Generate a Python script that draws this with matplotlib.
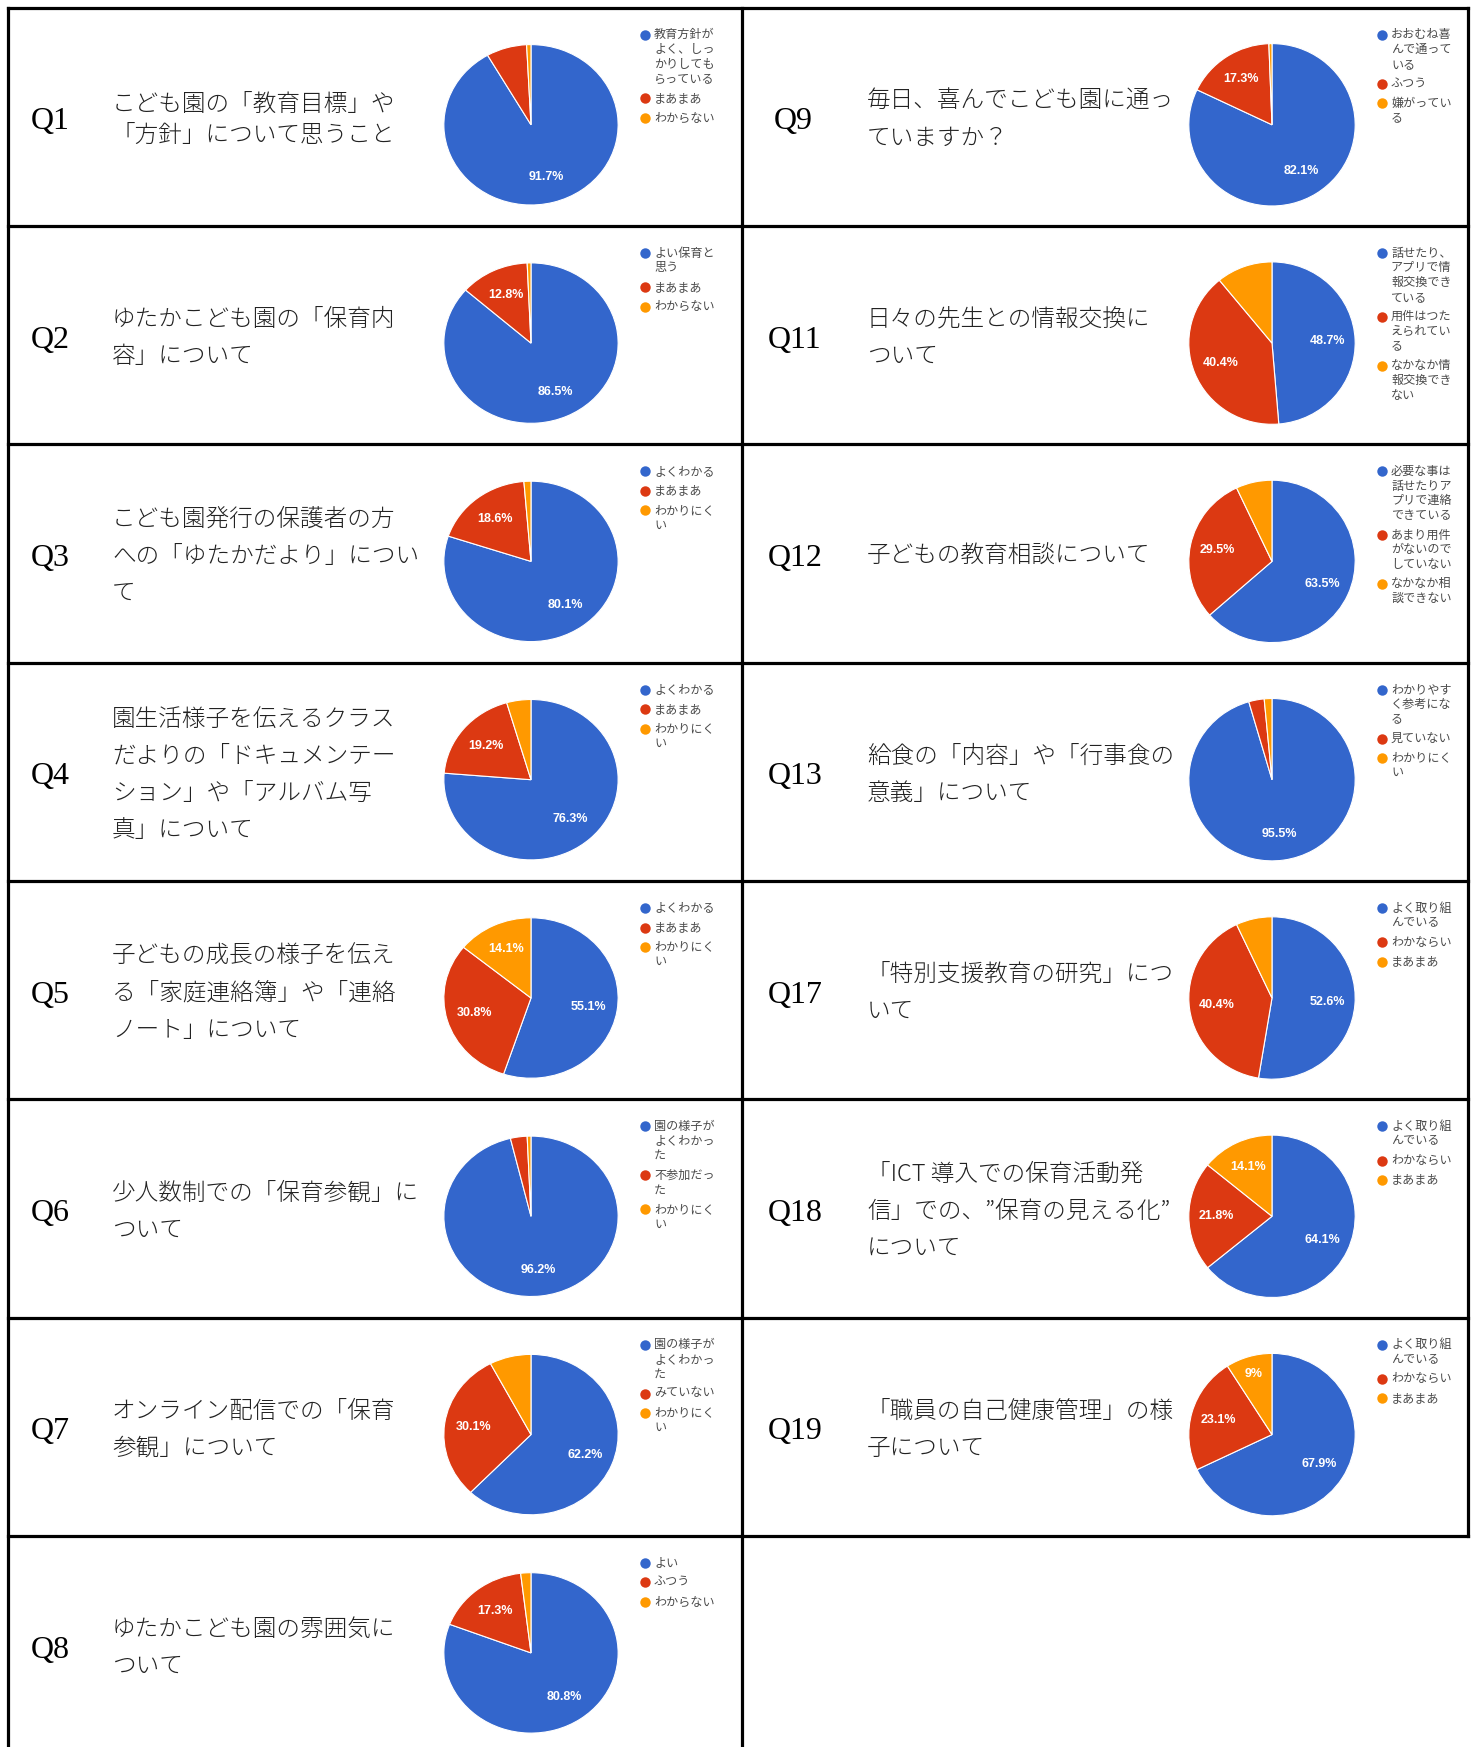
import matplotlib
matplotlib.use("Agg")
import matplotlib.pyplot as plt
import numpy as np

# --- data -------------------------------------------------------------
q_ids = ["Q1", "Q2", "Q3", "Q4", "Q5", "Q6", "Q7", "Q8",
         "Q9", "Q11", "Q12", "Q13", "Q17", "Q18", "Q19"]

q_text = [
    "こども園の「教育目標」や\n「方針」について思うこと",
    "ゆたかこども園の「保育内\n容」について",
    "こども園発行の保護者の方\nへの「ゆたかだより」につい\nて",
    "園生活様子を伝えるクラス\nだよりの「ドキュメンテー\nション」や「アルバム写\n真」について",
    "子どもの成長の様子を伝え\nる「家庭連絡簿」や「連絡\nノート」について",
    "少人数制での「保育参観」に\nついて",
    "オンライン配信での「保育\n参観」について",
    "ゆたかこども園の雰囲気に\nついて",
    "毎日、喜んでこども園に通っ\nていますか？",
    "日々の先生との情報交換に\nついて",
    "子どもの教育相談について",
    "給食の「内容」や「行事食の\n意義」について",
    "「特別支援教育の研究」につ\nいて",
    "「ICT 導入での保育活動発\n信」での、”保育の見える化”\nについて",
    "「職員の自己健康管理」の様\n子について",
]

blue_pct = [91.7, 86.5, 80.1, 76.3, 55.1, 96.2, 62.2, 80.8,
            82.1, 48.7, 63.5, 95.5, 52.6, 64.1, 67.9]
red_pct = [7.5, 12.8, 18.6, 19.2, 30.8, 3.1, 30.1, 17.3,
           17.3, 40.4, 29.5, 3.0, 40.4, 21.8, 23.1]
orange_pct = [0.8, 0.7, 1.3, 4.5, 14.1, 0.7, 7.7, 1.9,
              0.6, 10.9, 7.0, 1.5, 7.0, 14.1, 9.0]

legend_blue = [
    "教育方針が\nよく、しっ\nかりしても\nらっている",
    "よい保育と\n思う",
    "よくわかる",
    "よくわかる",
    "よくわかる",
    "園の様子が\nよくわかっ\nた",
    "園の様子が\nよくわかっ\nた",
    "よい",
    "おおむね喜\nんで通って\nいる",
    "話せたり、\nアプリで情\n報交換でき\nている",
    "必要な事は\n話せたりア\nプリで連絡\nできている",
    "わかりやす\nく参考にな\nる",
    "よく取り組\nんでいる",
    "よく取り組\nんでいる",
    "よく取り組\nんでいる",
]
legend_red = [
    "まあまあ", "まあまあ", "まあまあ", "まあまあ", "まあまあ",
    "不参加だっ\nた", "みていない", "ふつう",
    "ふつう", "用件はつた\nえられてい\nる", "あまり用件\nがないので\nしていない",
    "見ていない", "わかならい", "わかならい", "わかならい",
]
legend_orange = [
    "わからない", "わからない", "わかりにく\nい", "わかりにく\nい", "わかりにく\nい",
    "わかりにく\nい", "わかりにく\nい", "わからない",
    "嫌がってい\nる", "なかなか情\n報交換でき\nない", "なかなか相\n談できない",
    "わかりにく\nい", "まあまあ", "まあまあ", "まあまあ",
]

# slice labels google left out
hidden_labels = {("Q11", 2)}

colors = ["#3366CC", "#DC3912", "#FF9900"]

# --- layout (pixels) --------------------------------------------------
W, H = 1475, 1747
ROW_H = 218.3
TOP = 7.8
X_LEFT, X_MID, X_RIGHT = 8, 742, 1468

jp = ["Noto Sans CJK JP", "DejaVu Sans"]

fig = plt.figure(figsize=(W / 100, H / 100), dpi=100)
bg = fig.add_axes([0, 0, 1, 1])
bg.set_xlim(0, W)
bg.set_ylim(H, 0)
bg.axis("off")

# table lines
lw = 2.3
for i in range(8):
    y = TOP + i * ROW_H
    bg.plot([X_LEFT, X_RIGHT], [y, y], color="black", lw=lw, solid_capstyle="projecting")
bg.plot([X_LEFT, X_LEFT], [TOP, H], color="black", lw=lw)
bg.plot([X_MID, X_MID], [TOP, H], color="black", lw=lw)
bg.plot([X_RIGHT, X_RIGHT], [TOP, TOP + 7 * ROW_H], color="black", lw=lw)

for k, qid in enumerate(q_ids):
    if k < 8:
        col, row = 0, k
        qx, tx, cx, rx, ry, lgx = 31, 112, 531, 88, 81, 645
    else:
        col, row = 1, k - 8
        qx, tx, cx, rx, ry, lgx = 768, 867, 1272, 84, 82, 1382
    if qid == "Q9":
        qx = 774
    top = TOP + row * ROW_H
    mid = top + ROW_H / 2 + 3

    # Q label
    bg.text(qx, mid + 2, qid, fontsize=23, family="Liberation Serif",
            ha="left", va="center", color="black")

    # question text
    lines = q_text[k].split("\n")
    sp = 31 if qid == "Q1" else 37
    for i, ln in enumerate(lines):
        y = mid + (i - (len(lines) - 1) / 2) * sp
        bg.text(tx, y, ln, fontsize=17, family=jp, fontweight="light",
                ha="left", va="center", color="#222222")

    # pie
    cy = top + 117
    pax = fig.add_axes([(cx - rx) / W, 1 - (cy + ry) / H, 2 * rx / W, 2 * ry / H])
    vals = [blue_pct[k], red_pct[k], orange_pct[k]]
    wedges, _ = pax.pie(vals, colors=colors, startangle=90, counterclock=False,
                        wedgeprops=dict(edgecolor="white", linewidth=0.8))
    pax.set_aspect("auto")
    pax.set_xlim(-1.01, 1.01)
    pax.set_ylim(-1.01, 1.01)
    pax.axis("off")
    for j, (w, v) in enumerate(zip(wedges, vals)):
        if v < 8.5 or (qid, j) in hidden_labels:
            continue
        ang = np.deg2rad((w.theta1 + w.theta2) / 2)
        d = 0.78 if v < 12 else 0.67
        pax.text(d * np.cos(ang), d * np.sin(ang), f"{v:g}%", color="white",
                 fontsize=9, family="Liberation Sans", fontweight="bold",
                 ha="center", va="center")

    # legend
    y = top + 27
    for c, lab in zip(colors, [legend_blue[k], legend_red[k], legend_orange[k]]):
        bg.plot(lgx, y, marker="o", markersize=7.5, color=c, markeredgewidth=0)
        parts = lab.split("\n")
        for i, p in enumerate(parts):
            bg.text(lgx + 9, y + i * 14.7, p, fontsize=8.7, family=jp,
                    ha="left", va="center", color="#4a4a4a")
        y += (len(parts) - 1) * 14.7 + 19.5

fig.savefig("out.png", dpi=100, facecolor="white")
